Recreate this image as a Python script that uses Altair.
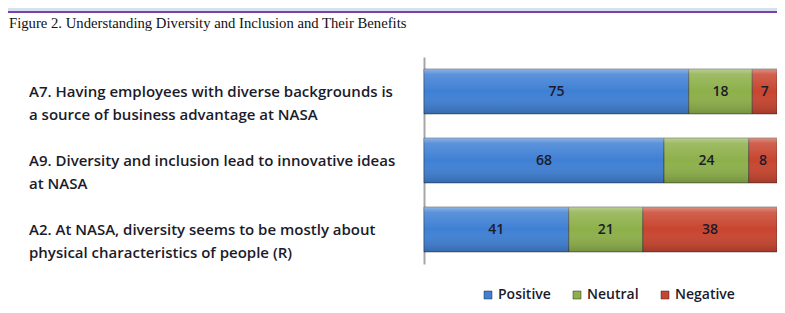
import altair as alt
import pandas as pd

keys = ["A7", "A9", "A2"]
label_texts = [
    "A7. Having employees with diverse backgrounds is\na source of business advantage at NASA",
    "A9. Diversity and inclusion lead to innovative ideas\nat NASA",
    "A2. At NASA, diversity seems to be mostly about\nphysical characteristics of people (R)",
]
series = ["Positive", "Neutral", "Negative"]
positive = [75, 68, 41]
neutral = [18, 24, 21]
negative = [7, 8, 38]
colors = ["#3f80d4", "#8db04a", "#c8452f"]
title_text = "Figure 2.  Understanding Diversity and Inclusion and Their Benefits"

rows = []
for i, k in enumerate(keys):
    start = 0
    for s, vals in zip(series, [positive, neutral, negative]):
        v = vals[i]
        rows.append({"key": k, "series": s, "value": v, "start": start,
                     "end": start + v, "mid": start + v / 2})
        start += v
df = pd.DataFrame(rows)
lab_df = pd.DataFrame({"key": keys, "label": label_texts})

W, H = 353, 207
PL, PT, PR, PB = 416, 49, 0, 41
TXT = "#1b1b2b"

yscale = alt.Scale(domain=keys, paddingInner=0.35, paddingOuter=0.175)
yax = alt.Axis(labels=False, ticks=False, title=None, grid=False,
               domainColor="#a6a6a6", domainWidth=2)
xscale = alt.Scale(domain=[0, 100], nice=False, zero=True)

bars = alt.Chart(df).mark_bar(stroke="#2a2a2a", strokeOpacity=0.5, strokeWidth=1).encode(
    x=alt.X("start:Q", scale=xscale, axis=None),
    x2="end:Q",
    y=alt.Y("key:N", scale=yscale, axis=yax),
    color=alt.Color("series:N", sort=series,
                    scale=alt.Scale(domain=series, range=colors),
                    legend=alt.Legend(title=None, orient="none", direction="horizontal",
                                      legendX=57, legendY=231, symbolType="square",
                                      symbolSize=64, symbolStrokeWidth=0.5,
                                      labelFont="Open Sans", labelFontSize=14,
                                      labelFontWeight=600,
                                      labelColor=TXT, labelOffset=3,
                                      columnPadding=19, padding=0)),
)

shine = alt.Chart(df).mark_bar(
    color=alt.LinearGradient(
        gradient="linear", x1=0, x2=0, y1=0, y2=1,
        stops=[alt.GradientStop(offset=0, color="rgba(255,255,255,0.4)"),
               alt.GradientStop(offset=0.12, color="rgba(255,255,255,0.15)"),
               alt.GradientStop(offset=0.5, color="rgba(255,255,255,0.0)"),
               alt.GradientStop(offset=1, color="rgba(0,0,0,0.18)")]),
).encode(
    x=alt.X("start:Q", scale=xscale, axis=None),
    x2="end:Q",
    y=alt.Y("key:N", scale=yscale, axis=yax),
)

nums = alt.Chart(df).mark_text(font="Open Sans", fontSize=14, fontWeight=600,
                               color=TXT).encode(
    x=alt.X("mid:Q", scale=xscale, axis=None),
    y=alt.Y("key:N", scale=yscale, axis=yax),
    text="value:Q",
)

labels = alt.Chart(lab_df).mark_text(
    font="Open Sans", fontSize=15, fontWeight=600, color=TXT, align="left",
    baseline="middle", lineBreak="\n", lineHeight=23, dy=0.5,
).encode(
    x=alt.value(-395),
    y=alt.Y("key:N", scale=yscale, axis=yax),
    text="label:N",
)

one = alt.Data(values=[{"t": title_text}])
title = alt.Chart(one).mark_text(
    font="Liberation Serif", fontSize=14.7, color="#111111", align="left",
    baseline="alphabetic",
).encode(x=alt.value(-415), y=alt.value(-29), text="t:N")

band = alt.Chart(one).mark_rect(color="#d6e1ef").encode(
    x=alt.value(-PL), x2=alt.value(W + PR), y=alt.value(-PT), y2=alt.value(-PT + 3))
purple = alt.Chart(one).mark_rect(color="#7f3fa8").encode(
    x=alt.value(-PL), x2=alt.value(W + PR), y=alt.value(-PT + 3), y2=alt.value(-PT + 5))

chart = alt.layer(band, purple, title, bars, shine, nums, labels).properties(
    width=W, height=H,
    autosize=alt.AutoSizeParams(type="none"),
    padding={"left": PL, "top": PT, "right": PR, "bottom": PB},
).configure_view(stroke=None)

chart.save("out.html", embed_options={"renderer": "svg", "actions": False})
